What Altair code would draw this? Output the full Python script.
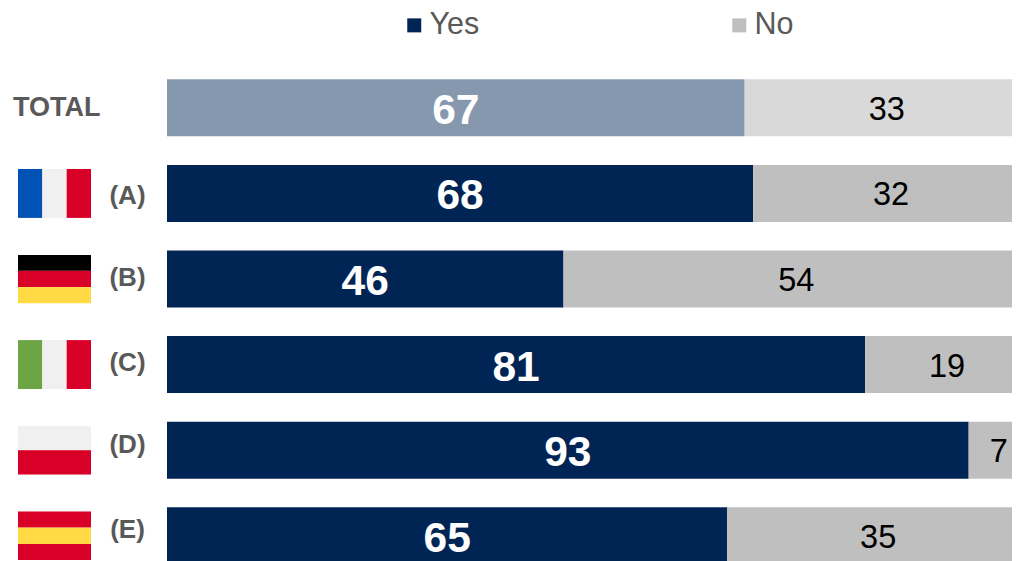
import base64
import altair as alt
import pandas as pd

rows = ["TOTAL", "(A)", "(B)", "(C)", "(D)", "(E)"]
yes = [67, 68, 46, 81, 93, 65]
no = [33, 32, 54, 19, 7, 35]
label_nudge = [0, 3, -1, -1.5, -5.5, -5.5]
series = ["Yes", "No"]
colors = ["#002554", "#BFBFBF"]

BLUE, WHITE, RED, GREEN, YEL, BLK = "#0052B4", "#F0F0F0", "#D80027", "#6DA544", "#FFDA44", "#000000"
flags = {
    "(A)": ("v", [BLUE, WHITE, RED]),
    "(B)": ("h", [BLK, RED, YEL]),
    "(C)": ("v", [GREEN, WHITE, RED]),
    "(D)": ("h", [WHITE, RED]),
    "(E)": ("h", [RED, YEL, RED]),
}


def flag_url(kind, cols):
    n = len(cols)
    parts = []
    for i, c in enumerate(cols):
        if kind == "v":
            parts.append(f'<rect x="{i * 73 / n}" y="0" width="{73 / n}" height="49" fill="{c}"/>')
        else:
            parts.append(f'<rect x="0" y="{i * 49 / n}" width="73" height="{49 / n}" fill="{c}"/>')
    svg = ('<svg xmlns="http://www.w3.org/2000/svg" width="73" height="49" viewBox="0 0 73 49" '
           'preserveAspectRatio="none">' + "".join(parts) + "</svg>")
    return "data:image/svg+xml;base64," + base64.b64encode(svg.encode()).decode()


W, H = 862, 513.6
recs = []
for r, y, n in zip(rows, yes, no):
    recs.append({"row": r, "series": "Yes", "start": 0, "end": y, "value": y,
                 "shade": "total yes" if r == "TOTAL" else "country"})
    recs.append({"row": r, "series": "No", "start": y, "end": 100, "value": n,
                 "shade": "total no" if r == "TOTAL" else "country"})
df = pd.DataFrame(recs)
df["mid"] = (df["start"] + df["end"]) / 2

xs = alt.Scale(domain=[0, 100], range=[0, W], nice=False, zero=False)
ys = alt.Scale(domain=rows, paddingInner=28.6 / 85.6, paddingOuter=14.3 / 85.6)
X = alt.X("start:Q", scale=xs, axis=None)
Y = alt.Y("row:N", scale=ys, axis=None, sort=rows)

bars = alt.Chart(df).mark_bar(size=57).encode(
    x=X,
    x2="end:Q",
    y=Y,
    color=alt.Color("series:N", sort=series,
                    scale=alt.Scale(domain=series, range=colors),
                    legend=alt.Legend(title=None, orient="none", direction="horizontal",
                                      legendX=232, legendY=-55, columns=2,
                                      symbolType="square", symbolSize=196, symbolOpacity=1,
                                      symbolStrokeWidth=0,
                                      labelFont="Liberation Sans", labelFontSize=30.5,
                                      labelColor="#595959", labelOffset=0,
                                      columnPadding=244)),
    opacity=alt.Opacity("shade:N", legend=None,
                        scale=alt.Scale(type="ordinal",
                                        domain=["country", "total yes", "total no"],
                                        range=[1, 0.475, 0.6])),
)

yes_text = alt.Chart(df[df.series == "Yes"]).mark_text(
    font="Liberation Sans", fontWeight="bold", fontSize=42.5, color="white", dy=3
).encode(x=alt.X("mid:Q", scale=xs, axis=None), y=Y, text="value:Q")

no_text = alt.Chart(df[df.series == "No"]).mark_text(
    font="Liberation Sans", fontSize=32.5, color="black", dy=2
).encode(x=alt.X("mid:Q", scale=xs, axis=None), y=Y, text="value:Q")

layers = [bars, yes_text, no_text]

for r, nudge in zip(rows, label_nudge):
    is_total = r == "TOTAL"
    layers.append(
        alt.Chart(pd.DataFrame({"row": [r]})).mark_text(
            font="Liberation Sans", fontWeight="bold", fontSize=27 if is_total else 26,
            color="#595959", align="left" if is_total else "center", dy=nudge,
        ).encode(x=alt.value(-154 if is_total else -39.5), y=Y, text="row:N")
    )

flag_df = pd.DataFrame([{"row": k, "url": flag_url(*v)} for k, v in flags.items()])
layers.append(
    alt.Chart(flag_df).mark_image(width=73, height=49, aspect=False).encode(
        x=alt.value(-112.5), y=Y, url="url:N"
    )
)

chart = alt.layer(*layers).properties(
    width=W, height=H,
    padding={"left": 159, "top": 57, "right": -17, "bottom": -17.6},
    autosize=alt.AutoSizeParams(type="none"),
    background="white",
).configure_view(stroke=None)

chart.save("out.html", embed_options={"renderer": "svg", "actions": False})
